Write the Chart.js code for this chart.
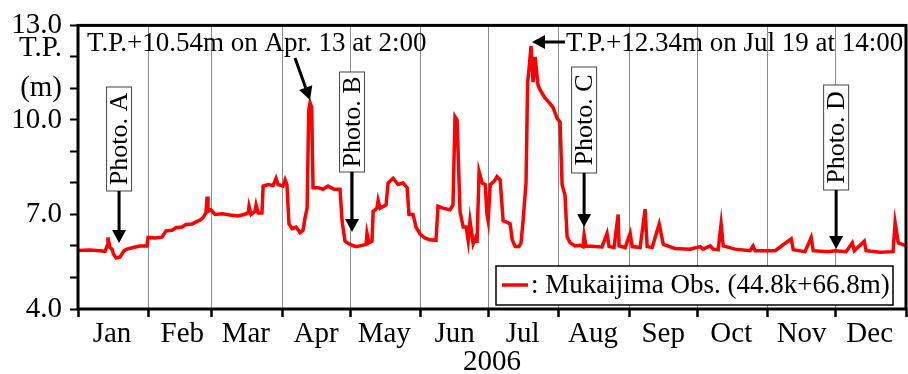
<!DOCTYPE html>
<html>
<head>
<meta charset="utf-8">
<script src="https://cdn.jsdelivr.net/npm/chart.js@4.4.1/dist/chart.umd.min.js"></script>
<style>
    body { margin: 0; background: #fff; }
    #wrap { width: 908px; height: 374px; }
</style>
</head>
<body>
<div id="wrap"><canvas id="water-level"></canvas></div>
<script>
const monthNames = ['Jan', 'Feb', 'Mar', 'Apr', 'May', 'Jun', 'Jul', 'Aug', 'Sep', 'Oct', 'Nov', 'Dec'];
const monthStarts = [0, 31, 59, 90, 120, 151, 181, 212, 243, 273, 304, 334, 365];
const yLabelled = [4, 7, 10, 13];

// day of year 2006 (0 = Jan 1) and water level T.P. (m)
const days = [
    0, 5.3, 9.7, 11.9, 12.8, 13.2, 14.1, 15.0, 15.6, 16.8, 18.5, 20.3, 21.6, 24.3, 27.3, 30.4,
    30.9, 34.0, 37.0, 38.8, 41.4, 43.2, 45.9, 47.6, 50.3, 52.5, 53.8, 55.1, 56.4, 56.9, 57.3, 58.6,
    60.4, 63.5, 67.0, 70.5, 73.2, 75.0, 75.4, 76.3, 78.0, 78.5, 79.4, 81.1, 81.6, 83.8, 86.0, 87.3,
    88.2, 90.4, 91.3, 92.1, 93.0, 94.4, 96.1, 97.9, 99.2, 100.1, 101.0, 101.7, 102.3, 103.0, 103.6,
    105.8, 108.0, 110.2, 112.9, 115.5, 116.4, 117.7, 119.9, 122.6, 125.2, 127.0, 127.4, 128.3, 129.6,
    130.1, 131.8, 132.3, 133.2, 135.8, 136.7, 138.9, 141.1, 143.3, 145.1, 145.9, 147.7, 149.0, 150.8,
    153.0, 155.2, 157.8, 158.7, 160.9, 164.0, 165.3, 166.2, 167.1, 168.4, 169.8, 171.1, 172.0, 172.8,
    174.2, 175.5, 175.9, 176.8, 178.2, 179.5, 180.3, 180.8, 181.7, 183.4, 184.7, 186.1, 187.4, 189.2,
    190.5, 191.4, 192.7, 194.4, 195.3, 196.2, 197.5, 198.2, 198.8, 199.7, 200.6, 201.5, 202.8, 204.1,
    205.9, 207.7, 209.4, 211.2, 212.5, 213.4, 214.7, 215.6, 216.9, 219.1, 221.3, 222.6, 223.1, 223.9,
    227.9, 231.0, 233.2, 234.1, 236.3, 238.1, 238.5, 241.2, 243.4, 244.3, 247.8, 250.0, 250.9, 253.1,
    256.2, 258.0, 263.2, 269.8, 274.3, 275.6, 278.7, 280.0, 282.2, 283.5, 284.4, 289.7, 296.3, 297.6,
    298.5, 307.3, 314.4, 315.3, 320.5, 323.2, 324.1, 330.7, 333.8, 338.6, 341.3, 342.2, 346.6, 347.4,
    353.6, 359.3, 360.2, 361.6, 365
];
const levels = [
    5.86, 5.87, 5.85, 5.83, 6.0, 6.27, 5.95, 5.9, 5.75, 5.62, 5.65, 5.85, 5.9, 5.95, 6.0, 6.0,
    6.27, 6.25, 6.28, 6.48, 6.5, 6.58, 6.6, 6.68, 6.7, 6.78, 6.82, 6.9, 7.05, 7.57, 7.1, 7.15,
    7.0, 7.02, 6.98, 6.95, 7.0, 7.05, 7.26, 7.0, 7.1, 7.3, 7.05, 7.05, 7.9, 7.95, 7.92, 8.15,
    7.95, 7.9, 8.1, 7.95, 6.7, 6.55, 6.6, 6.42, 6.5, 6.9, 7.2, 10.3, 10.54, 10.4, 7.85,
    7.85, 7.8, 7.9, 7.8, 7.8, 6.8, 6.15, 6.05, 5.98, 6.02, 6.05, 6.4, 6.1, 6.15,
    7.1, 7.2, 7.45, 7.2, 7.3, 8.0, 8.15, 7.95, 8.0, 7.85, 7.0, 7.0, 6.6, 6.38,
    6.25, 6.2, 6.18, 7.26, 7.2, 7.15, 7.3, 10.1, 10.0, 7.1, 6.6, 6.6, 6.17, 6.8,
    6.07, 6.3, 6.1, 8.36, 8.0, 7.95, 7.0, 6.8, 7.95, 8.05, 8.2, 8.1, 6.8, 6.75,
    6.7, 6.2, 5.98, 5.98, 6.1, 6.8, 8.0, 11.2, 11.6, 12.34, 11.2, 12.0, 11.1, 10.9,
    10.7, 10.55, 10.4, 10.05, 9.93, 7.95, 7.6, 6.3, 6.1, 6.0, 6.02, 5.98, 6.35, 6.0,
    5.98, 5.97, 6.4, 5.98, 5.95, 7.0, 6.0, 5.95, 6.4, 5.98, 5.95, 7.17, 5.98, 5.95,
    6.7, 6.05, 5.92, 5.9, 5.98, 5.9, 6.0, 5.9, 5.88, 6.7, 6.0, 5.9, 5.85, 6.0,
    5.85, 5.85, 6.23, 5.88, 5.82, 6.27, 5.85, 5.82, 5.85, 5.82, 6.1, 5.85, 6.15, 5.85,
    5.8, 5.82, 6.74, 6.1, 6.0
];

const serif = '"Liberation Serif", "Times New Roman", serif';

function drawArrow(ctx, x1, y1, x2, y2) {
    let ang = Math.atan2(y2 - y1, x2 - x1);
    let len = 13, half = 7;
    let bx = x2 - len * Math.cos(ang), by = y2 - len * Math.sin(ang);
    ctx.beginPath();
    ctx.moveTo(x1, y1);
    ctx.lineTo(bx, by);
    ctx.stroke();
    ctx.beginPath();
    ctx.moveTo(x2, y2);
    ctx.lineTo(bx + half * Math.sin(ang), by - half * Math.cos(ang));
    ctx.lineTo(bx - half * Math.sin(ang), by + half * Math.cos(ang));
    ctx.closePath();
    ctx.fill();
}

const notesPlugin = {
    id: 'notes',
    afterDatasetsDraw(chart) {
        const ctx = chart.ctx;
        const area = chart.chartArea;
        const xs = chart.scales.x, ys = chart.scales.y;
        ctx.save();
        ctx.strokeStyle = '#000';
        ctx.fillStyle = '#000';
        ctx.lineWidth = 3;
        ctx.strokeRect(area.left, area.top, area.right - area.left, area.bottom - area.top);

        // y axis unit
        ctx.font = '29px ' + serif;
        ctx.textAlign = 'right';
        ctx.textBaseline = 'middle';
        ctx.fillText('T.P.', 62, 48);
        ctx.fillText('(m)', 62, 88);

        // peak notes
        ctx.font = '27px ' + serif;
        ctx.textAlign = 'left';
        ctx.fillText('T.P.+10.54m on Apr. 13 at 2:00', 87, 44);
        ctx.fillText('T.P.+12.34m on Jul 19 at 14:00', 566, 44);
        ctx.lineWidth = 3;
        drawArrow(ctx, 295, 58, xs.getPixelForValue(102.3), ys.getPixelForValue(10.54) - 3);
        drawArrow(ctx, 565, 42, xs.getPixelForValue(199.7) + 1, 42);

        // photo spots
        let photos = [
            {text: 'Photo. A', day: 18.1, top: 87, bottom: 191, tip: 243},
            {text: 'Photo. B', day: 120.8, top: 72, bottom: 172, tip: 232},
            {text: 'Photo. C', day: 223.1, top: 67, bottom: 173, tip: 227},
            {text: 'Photo. D', day: 334.2, top: 85, bottom: 190, tip: 249}
        ];
        photos.forEach((p) => {
            let px = xs.getPixelForValue(p.day);
            ctx.fillStyle = '#fff';
            ctx.fillRect(px - 12.5, p.top, 25, p.bottom - p.top);
            ctx.lineWidth = 1;
            ctx.strokeStyle = '#444';
            ctx.strokeRect(px - 12.5, p.top, 25, p.bottom - p.top);
            ctx.fillStyle = '#000';
            ctx.strokeStyle = '#000';
            ctx.lineWidth = 3;
            drawArrow(ctx, px, p.bottom, px, p.tip);
            ctx.save();
            ctx.translate(px + 1, (p.top + p.bottom) / 2);
            ctx.rotate(-Math.PI / 2);
            ctx.font = '26px ' + serif;
            ctx.textAlign = 'center';
            ctx.textBaseline = 'middle';
            ctx.fillText(p.text, 0, 0);
            ctx.restore();
        });

        // legend
        let ds = chart.data.datasets[0];
        ctx.fillStyle = '#fff';
        ctx.fillRect(496, 266, 397, 39);
        ctx.lineWidth = 1.5;
        ctx.strokeStyle = '#000';
        ctx.strokeRect(496, 266, 397, 39);
        ctx.strokeStyle = ds.borderColor;
        ctx.lineWidth = ds.borderWidth;
        ctx.beginPath();
        ctx.moveTo(502, 285);
        ctx.lineTo(528, 285);
        ctx.stroke();
        ctx.fillStyle = '#000';
        ctx.font = '27px ' + serif;
        ctx.textAlign = 'left';
        ctx.textBaseline = 'middle';
        ctx.fillText(ds.label, 531, 286);
        ctx.restore();
    }
};

function renderChart() {
    const data = {
        datasets: [{
            label: ': Mukaijima Obs. (44.8k+66.8m)',
            data: days.map((d, i) => ({x: d, y: levels[i]})),
            borderColor: '#ff0000',
            borderWidth: 3.5,
            pointRadius: 0,
            tension: 0,
            fill: false
        }]
    };
    const config = {
        type: 'line',
        data: data,
        options: {
            responsive: true,
            maintainAspectRatio: false,
            animation: false,
            layout: {
                padding: {top: 22, right: 2, left: 0, bottom: 0}
            },
            plugins: {
                legend: {display: false},
                tooltip: {enabled: false}
            },
            scales: {
                x: {
                    type: 'linear',
                    min: 0,
                    max: 365,
                    afterBuildTicks: (scale) => {
                        scale.ticks = monthStarts.map((v) => ({value: v}));
                    },
                    afterFit: (scale) => {
                        scale.height = 65;
                    },
                    border: {display: false},
                    grid: {
                        color: '#8c8c8c',
                        lineWidth: 1,
                        tickColor: '#000',
                        tickWidth: 2.5,
                        tickLength: 8
                    },
                    ticks: {
                        autoSkip: false,
                        maxRotation: 0,
                        labelOffset: 34,
                        padding: 0,
                        color: '#000',
                        font: {family: serif, size: 29},
                        callback: (v, i) => monthNames[i] || ''
                    },
                    title: {
                        display: true,
                        text: '2006',
                        color: '#000',
                        padding: 0,
                        font: {family: serif, size: 29, lineHeight: 0.8}
                    }
                },
                y: {
                    min: 4,
                    max: 13,
                    afterFit: (scale) => {
                        scale.width = 78;
                    },
                    border: {display: false},
                    grid: {
                        drawOnChartArea: false,
                        tickColor: '#000',
                        tickWidth: 2,
                        tickLength: 8
                    },
                    ticks: {
                        stepSize: 1,
                        autoSkip: false,
                        padding: 8,
                        color: '#000',
                        font: {family: serif, size: 29},
                        callback: (v) => yLabelled.includes(v) ? v.toFixed(1) : ''
                    }
                }
            }
        },
        plugins: [notesPlugin]
    };
    new Chart(document.getElementById('water-level'), config);
}
renderChart();
</script>
</body>
</html>
